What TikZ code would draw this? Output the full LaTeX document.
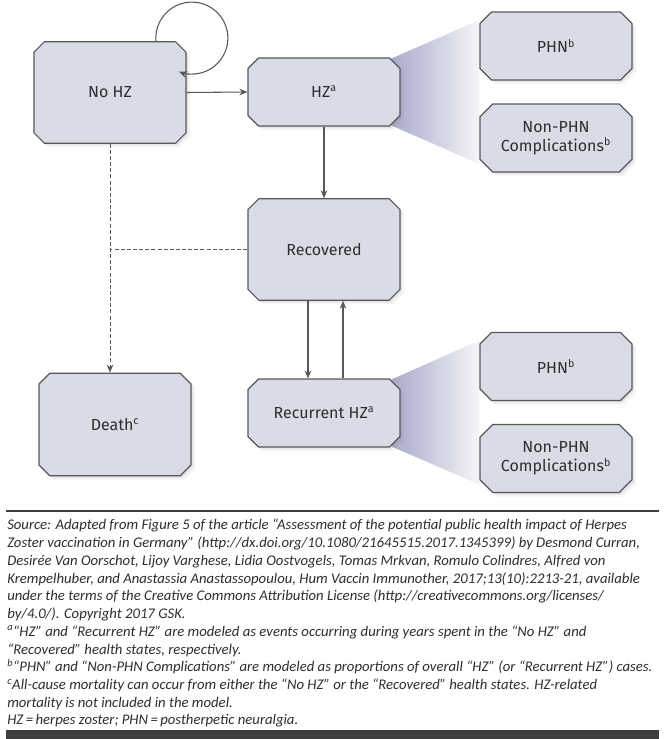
\documentclass[tikz,border=0pt]{standalone}
\usepackage{fontspec}
\setmainfont{Fira Sans}
\newfontfamily\notefont{Carlito}
\usepackage{tikz}
\usetikzlibrary{calc,arrows.meta,shapes.misc,shadows,backgrounds}
\definecolor{ink}{HTML}{2E2E2E}
\definecolor{edge}{HTML}{585858}
\definecolor{boxfill}{HTML}{D9DBE6}
\definecolor{fanl}{HTML}{A9ABCB}
\definecolor{fanr}{HTML}{F5F5F8}
\definecolor{bar}{HTML}{3E3E3E}
\tikzset{
  state/.style={chamfered rectangle, chamfered rectangle xsep=6pt, draw=edge, line width=0.9pt,
    fill=boxfill, text=ink, minimum width=114pt, minimum height=51pt, inner sep=0pt,
    align=center, font=\fontsize{12}{14.5}\selectfont,
    drop shadow={shadow xshift=1.5pt, shadow yshift=-1.5pt, opacity=.14},
    drop shadow={shadow xshift=3pt, shadow yshift=-3pt, opacity=.08}},
  tall/.style={minimum height=76pt},
  arr/.style={draw=edge, line width=0.8pt, -{Stealth[length=6pt,width=5pt]}},
  dsh/.style={draw=edge, line width=0.7pt, dash pattern=on 3pt off 1.6pt},
  fan/.style={left color=fanl, right color=fanr, draw=none},
  note/.style={anchor=north west, inner sep=0pt, align=left, text=ink,
    font=\notefont\itshape\fontsize{11.05}{13.3}\selectfont}
}

\begin{document}
\begin{tikzpicture}[x=0.75pt, y=-0.75pt]
  \useasboundingbox (0,0) rectangle (665,739);

  \node[state,tall] (NoHZ) at (110,92.5) {No HZ};
  \node[state] (HZ) at (324,92) {HZ\textsuperscript{a}};
  \node[state] (PHNa) at (556,46) {PHN\textsuperscript{b}};
  \node[state] (NonPHNa) at (556,138) {Non-PHN\\Complications\textsuperscript{b}};
  \node[state,tall] (Recovered) at (324,249.5) {Recovered};
  \node[state,minimum height=77pt] (Death) at (115,424.5) {Death\textsuperscript{c}};
  \node[state] (RecHZ) at (324,413) {Recurrent HZ\textsuperscript{a}};
  \node[state] (PHNb) at (556,366.5) {PHN\textsuperscript{b}};
  \node[state] (NonPHNb) at (556,458.5) {Non-PHN\\Complications\textsuperscript{b}};

  \begin{scope}[on background layer]
    \fill[white] (0,0) rectangle (665,739);
    \shade[fan] ($(HZ.east)+(-8,-34)$) -- ($(PHNa.west)+(0,-26)$)
      -- ($(NonPHNa.west)+(0,26)$) -- ($(HZ.east)+(-8,34)$) -- cycle;
    \shade[fan] ($(RecHZ.east)+(-8,-34)$) -- ($(PHNb.west)+(0,-26)$)
      -- ($(NonPHNb.west)+(0,26)$) -- ($(RecHZ.east)+(-8,34)$) -- cycle;
  \end{scope}

  \draw[arr] ($(NoHZ.north)+(46,0)$) arc[start angle=175, end angle=471, radius=36];
  \draw[arr] (NoHZ.east) -- (HZ.west);
  \draw[arr] (HZ.south) -- (Recovered.north);
  \draw[arr] ($(Recovered.south)+(-16,0)$) -- ($(RecHZ.north)+(-16,0)$);
  \draw[arr] ($(RecHZ.north)+(19,0)$) -- ($(Recovered.south)+(19,0)$);
  \draw[dsh,-{Stealth[length=6pt,width=5pt]}] (NoHZ.south) -- (NoHZ.south |- Death.north);
  \draw[dsh] (Recovered.west) -- (Recovered.west -| NoHZ.south);

  % notes under the chart
  \draw[bar, line width=0.9pt] (6,511) -- (659,511);
  \node[note] (notes) at (7,519) {%
    Source: Adapted from Figure 5 of the article “Assessment of the potential public health impact of Herpes\\
    Zoster vaccination in Germany” (http://dx.doi.org/10.1080/21645515.2017.1345399) by Desmond Curran,\\
    Desirée Van Oorschot, Lijoy Varghese, Lidia Oostvogels, Tomas Mrkvan, Romulo Colindres, Alfred von\\
    Krempelhuber, and Anastassia Anastassopoulou, Hum Vaccin Immunother, 2017;13(10):2213-21, available\\
    under the terms of the Creative Commons Attribution License (http://creativecommons.org/licenses/\\
    by/4.0/). Copyright 2017 GSK.\\
    \textsuperscript{a}“HZ” and “Recurrent HZ” are modeled as events occurring during years spent in the “No HZ” and\\
    “Recovered” health states, respectively.\\
    \textsuperscript{b}“PHN” and “Non-PHN Complications” are modeled as proportions of overall “HZ” (or “Recurrent HZ”) cases.\\
    \textsuperscript{c}All-cause mortality can occur from either the “No HZ” or the “Recovered” health states. HZ-related\\
    mortality is not included in the model.\\
    HZ\,=\,herpes zoster; PHN\,=\,postherpetic neuralgia.};
  \fill[bar] (6,730) rectangle (659,739);
\end{tikzpicture}
\end{document}
